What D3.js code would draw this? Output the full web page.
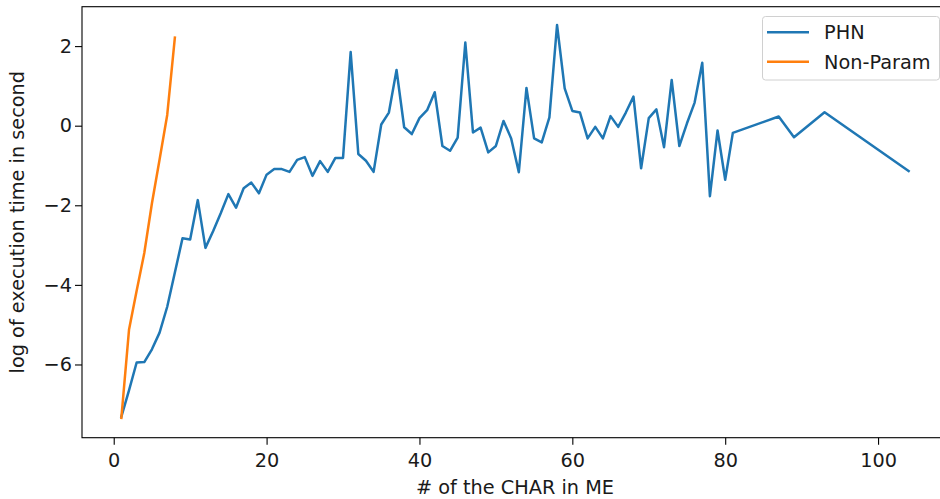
<!DOCTYPE html>
<html>
<head>
<meta charset="utf-8">
<script src="https://cdn.jsdelivr.net/npm/d3@7"></script>
<style>
  html, body { margin: 0; padding: 0; background: #fff; }
  svg { display: block; }
  text { font-family: "DejaVu Sans", sans-serif; fill: #1a1a1a; }
</style>
</head>
<body>
<svg id="chart" width="940" height="499"></svg>
<script>
// Number of characters in the ME (x) for each measured run
const phnX = [
  1, 2, 3, 4, 5, 6, 7, 8, 9, 10,
  11, 12, 13, 14, 15, 16, 17, 18, 19, 20,
  21, 22, 23, 24, 25, 26, 27, 28, 29, 30,
  31, 32, 33, 34, 35, 36, 37, 38, 39, 40,
  41, 42, 43, 44, 45, 46, 47, 48, 49, 50,
  51, 52, 53, 54, 55, 56, 57, 58, 59, 60,
  61, 62, 63, 64, 65, 66, 67, 68, 69, 70,
  71, 72, 73, 74, 75, 76, 77, 78, 79, 80,
  81, 87, 89, 93, 104
];
// log of execution time (seconds), PHN method
const phnY = [
  -7.31, -6.65, -5.95, -5.94, -5.62, -5.20, -4.55, -3.69, -2.83, -2.86,
  -1.87, -3.07, -2.65, -2.20, -1.72, -2.06, -1.57, -1.43, -1.70, -1.23,
  -1.09, -1.09, -1.16, -0.86, -0.79, -1.26, -0.89, -1.16, -0.81, -0.81,
  1.85, -0.71, -0.88, -1.16, 0.03, 0.33, 1.40, -0.04, -0.21, 0.19,
  0.39, 0.84, -0.51, -0.63, -0.30, 2.09, -0.17, -0.05, -0.67, -0.51,
  0.12, -0.32, -1.17, 0.95, -0.32, -0.42, 0.21, 2.53, 0.94, 0.37,
  0.33, -0.32, -0.03, -0.32, 0.24, -0.03, 0.33, 0.73, -1.07, 0.19,
  0.41, -0.54, 1.15, -0.51, 0.06, 0.58, 1.58, -1.77, -0.12, -1.36,
  -0.18, 0.23, -0.29, 0.34, -1.14
];
// Non-parametric method, only run for small inputs
const nonParamX = [1, 2, 3, 4, 5, 6, 7, 8];
const nonParamY = [-7.34, -5.13, -4.15, -3.20, -1.95, -0.85, 0.27, 2.21];

const seriesNames = ["PHN", "Non-Param"];
const seriesColors = ["#1f77b4", "#ff7f0e"];
const xTicks = [0, 20, 40, 60, 80, 100];
const yTicks = [-6, -4, -2, 0, 2];

const FONT = 19.3;
const svg = d3.select("#chart");
const plot = { left: 82, right: 948, top: 6.7, bottom: 437.7 };

const x = d3.scaleLinear().domain([-4.15, 109.15]).range([plot.left, plot.right]);
const y = d3.scaleLinear().domain([-7.84, 2.99]).range([plot.bottom, plot.top]);

const fmt = d => (d < 0 ? "\u2212" + Math.abs(d) : String(d));

function styleAxis(g) {
  g.select(".domain").remove();
  g.selectAll("line").attr("stroke", "#000").attr("stroke-width", 1.1);
  g.selectAll("text").attr("font-size", FONT).attr("fill", "#1a1a1a")
    .attr("font-family", "DejaVu Sans, sans-serif");
}

// x axis
svg.append("g")
  .attr("transform", `translate(0,${plot.bottom})`)
  .call(d3.axisBottom(x).tickValues(xTicks).tickFormat(fmt).tickSize(7).tickPadding(8.6))
  .call(styleAxis);

// y axis
svg.append("g")
  .attr("transform", `translate(${plot.left},0)`)
  .call(d3.axisLeft(y).tickValues(yTicks).tickFormat(fmt).tickSize(7).tickPadding(3))
  .call(styleAxis);

// data lines
const series = [
  { name: seriesNames[0], color: seriesColors[0], pts: phnX.map((v, i) => [v, phnY[i]]) },
  { name: seriesNames[1], color: seriesColors[1], pts: nonParamX.map((v, i) => [v, nonParamY[i]]) }
];
const line = d3.line().x(d => x(d[0])).y(d => y(d[1]));
svg.append("g").selectAll("path")
  .data(series)
  .join("path")
  .attr("d", d => line(d.pts))
  .attr("fill", "none")
  .attr("stroke", d => d.color)
  .attr("stroke-width", 2.5)
  .attr("stroke-linejoin", "round")
  .attr("stroke-linecap", "square");

// axes frame
svg.append("rect")
  .attr("x", plot.left).attr("y", plot.top)
  .attr("width", plot.right - plot.left).attr("height", plot.bottom - plot.top)
  .attr("fill", "none").attr("stroke", "#000").attr("stroke-width", 1.1);

// axis titles
svg.append("text")
  .attr("x", (plot.left + plot.right) / 2).attr("y", 494)
  .attr("text-anchor", "middle").attr("font-size", FONT)
  .text("# of the CHAR in ME");
svg.append("text")
  .attr("transform", `translate(24,${(plot.top + plot.bottom) / 2}) rotate(-90)`)
  .attr("text-anchor", "middle").attr("font-size", FONT)
  .text("log of execution time in second");

// legend
const legend = svg.append("g");
legend.append("rect")
  .attr("x", 762.5).attr("y", 16.5).attr("width", 177).attr("height", 63.5)
  .attr("rx", 3).attr("fill", "#fff").attr("fill-opacity", 0.8)
  .attr("stroke", "#d0d0d0").attr("stroke-width", 1);
const rows = legend.selectAll("g.row")
  .data(series)
  .join("g")
  .attr("class", "row")
  .attr("transform", (d, i) => `translate(0,${32.3 + i * 29.4})`);
rows.append("line")
  .attr("x1", 767).attr("x2", 809).attr("y1", 0).attr("y2", 0)
  .attr("stroke", d => d.color).attr("stroke-width", 2.5);
rows.append("text")
  .attr("x", 824).attr("y", 7)
  .attr("font-size", FONT)
  .text(d => d.name);
</script>
</body>
</html>
